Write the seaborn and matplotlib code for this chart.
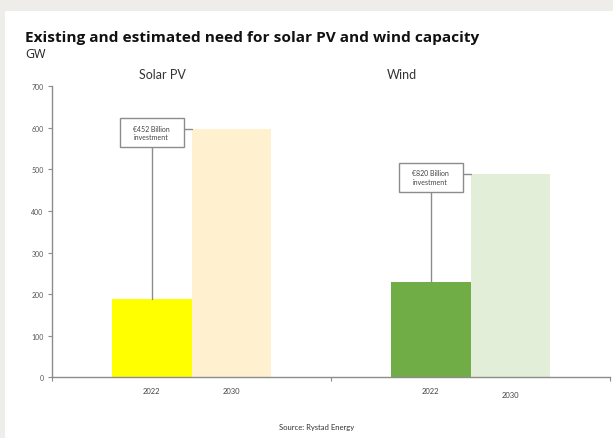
import matplotlib
matplotlib.use("Agg")
import matplotlib.pyplot as plt
from matplotlib.patches import Rectangle
import seaborn as sns
import pandas as pd

# Capacity in GW
technologies = ["Solar PV", "Wind"]
years = ["2022", "2030"]
solar_gw = [188, 597]
wind_gw = [229, 489]
investment_labels = ["€452 Billion\ninvestment", "€820 Billion\ninvestment"]
y_ticks = [0, 100, 200, 300, 400, 500, 600, 700]
source_note = "Source: Rystad Energy"
title = "Existing and estimated need for solar PV and wind capacity"
unit = "GW"

bar_colors = {
    ("Solar PV", "2022"): "#ffff00",
    ("Solar PV", "2030"): "#fff0cf",
    ("Wind", "2022"): "#70ad47",
    ("Wind", "2030"): "#e3eed9",
}

df = pd.DataFrame({
    "tech": [t for t in technologies for _ in years],
    "year": years * len(technologies),
    "gw": solar_gw + wind_gw,
})

sns.set_theme(style="white")
plt.rcParams["font.family"] = ["Lato", "DejaVu Sans"]

fig = plt.figure(figsize=(6.13, 4.39), dpi=100, facecolor="#eeedea")
card = Rectangle((5 / 613, 0), 1, 1 - 12 / 439, transform=fig.transFigure,
                 facecolor="white", edgecolor="none", zorder=-10)
fig.patches.append(card)

ax = fig.add_axes([52 / 613, 1 - 378.3 / 439, 558 / 613, 291 / 439])
ax.set_facecolor("none")
ax.set_zorder(1)

sns.barplot(data=df, x="tech", y="gw", hue="year", order=technologies,
            hue_order=years, width=0.573, gap=0, dodge=True, legend=False,
            errorbar=None, ax=ax, linewidth=0)

# colour each bar by technology and year, remember geometry
geom = {}
for year, container in zip(years, ax.containers):
    for tech, bar in zip(technologies, container):
        bar.set_facecolor(bar_colors[(tech, year)])
        bar.set_edgecolor("none")
        geom[(tech, year)] = (bar.get_x(), bar.get_width(), bar.get_height())

ax.set_xlim(-0.5, 1.5)
ax.set_ylim(0, 700)
ax.set_yticks(y_ticks)
ax.set_yticklabels([str(v) for v in y_ticks], fontsize=5, color="#555555")
ax.set_xticks([-0.5, 0.5, 1.5])
ax.set_xticklabels([])
ax.tick_params(axis="both", which="both", length=3, width=0.8, color="#8c8c8c",
               direction="out", bottom=True, left=True, pad=3)
ax.set_xlabel("")
ax.set_ylabel("")
for side in ["top", "right"]:
    ax.spines[side].set_visible(False)
for side in ["left", "bottom"]:
    ax.spines[side].set_color("#8c8c8c")
    ax.spines[side].set_linewidth(1.0)

# year labels under each bar
xform = ax.get_xaxis_transform()
for (tech, year), (x0, w, h) in geom.items():
    dy = -0.045 if not (tech == "Wind" and year == "2030") else -0.06
    ax.text(x0 + w / 2, dy, year, transform=xform, ha="center", va="center",
            fontsize=5.5, color="#444444")

# investment call-outs linking 2022 to 2030
for tech, label in zip(technologies, investment_labels):
    x0, w, h22 = geom[(tech, "2022")]
    x1, _, h30 = geom[(tech, "2030")]
    cx = x0 + w / 2
    box_w = 0.8 * w
    box_h = 70
    cy = h30 - 8
    ax.plot([cx, cx], [h22, cy - box_h / 2], color="#8c8c8c", lw=1.0, zorder=1)
    ax.plot([cx + box_w / 2, x1], [h30, h30], color="#8c8c8c", lw=1.0, zorder=1)
    ax.add_patch(Rectangle((cx - box_w / 2, cy - box_h / 2), box_w, box_h,
                           facecolor="white", edgecolor="#8c8c8c", lw=1.0, zorder=3))
    ax.text(cx, cy, label, ha="center", va="center", fontsize=5, color="#444444",
            linespacing=1.3, zorder=4)

fig.text(25 / 613, 1 - 38 / 439, title, fontsize=11.1, fontweight="bold",
         color="#111111", ha="left", va="center", family=["Open Sans", "DejaVu Sans"])
fig.text(25 / 613, 1 - 54 / 439, unit, fontsize=9, color="#222222",
         ha="left", va="center", family=["Open Sans", "DejaVu Sans"])
fig.text(162 / 613, 1 - 75 / 439, technologies[0], fontsize=9, color="#333333",
         ha="center", va="center")
fig.text(402 / 613, 1 - 75 / 439, technologies[1], fontsize=9, color="#333333",
         ha="center", va="center")
fig.text(317 / 613, 1 - 428 / 439, source_note, fontsize=5.5, color="#333333",
         ha="center", va="center")

fig.savefig("out.png", dpi=100, facecolor=fig.get_facecolor())
